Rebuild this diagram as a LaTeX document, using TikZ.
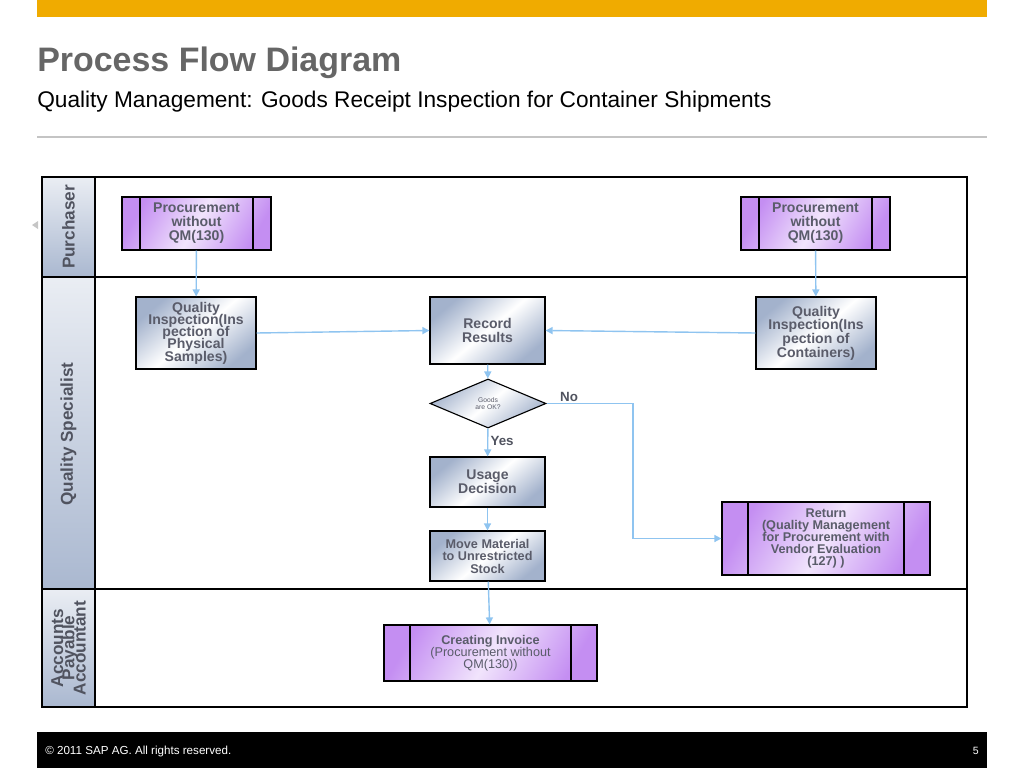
\documentclass[tikz,border=0pt]{standalone}
\usepackage{fontspec}
\setmainfont{Liberation Sans}
\usetikzlibrary{shapes.geometric}
\usetikzlibrary{arrows.meta}

\definecolor{sapgold}{HTML}{F0AB00}
\definecolor{titlegray}{HTML}{666666}
\definecolor{rulegray}{HTML}{C4C4C4}
\definecolor{flowblue}{HTML}{8FC4F0}
\definecolor{boxtext}{HTML}{5A5C6A}
\definecolor{stepblue}{HTML}{A3B2CC}
\definecolor{procpurple}{HTML}{C48EF2}
\definecolor{procpale}{HTML}{F1E4FC}
\definecolor{lanefill}{HTML}{AAB8D0}
\definecolor{lanetext}{HTML}{50535F}

% tight text, lines may touch
\newcommand{\tightfont}[2]{\fontsize{#1}{#2}\selectfont\lineskiplimit=-20pt\relax}

\begin{document}
\begin{tikzpicture}[x=0.025cm,y=-0.025cm,
    stepbox/.style={draw=black, line width=0.8pt, rectangle, align=center, text=boxtext,
        font=\tightfont{10}{10}\bfseries, inner sep=1pt,
        left color=stepblue, right color=stepblue, middle color=white, shading angle=40},
    procbox/.style={draw=black, line width=0.8pt, rectangle, align=center, text=boxtext,
        font=\tightfont{10}{10}\bfseries, inner sep=1pt,
        left color=procpurple, right color=procpurple, middle color=procpale, shading angle=60,
        path picture={
            \draw[line width=0.8pt] ([xshift=#1]path picture bounding box.north west) -- ([xshift=#1]path picture bounding box.south west);
            \draw[line width=0.8pt] ([xshift=-#1]path picture bounding box.north east) -- ([xshift=-#1]path picture bounding box.south east);}},
    decision/.style={diamond, draw=black, line width=0.8pt, minimum width=2.9cm, minimum height=1.225cm,
        inner sep=0pt, align=center, text=boxtext, font=\tightfont{4.8}{4.6},
        left color=stepblue, right color=stepblue, middle color=white, shading angle=40},
    lanelabel/.style={rotate=90, align=center, text=lanetext, inner sep=0pt,
        font=\tightfont{12.2}{8}\bfseries},
    lanecell/.style={top color=white!75!lanefill, bottom color=lanefill},
    flow/.style={draw=flowblue, line width=1pt, -{Triangle[length=5pt,width=5pt]}},
    lbl/.style={text=lanetext, font=\fontsize{9.5}{10}\selectfont\bfseries, inner sep=0.5pt}]
    \useasboundingbox (0,0) rectangle (1024,768);

    % Header
    \fill[sapgold] (37,0) rectangle (987,17);
    \node[anchor=base west, inner sep=0pt, text=titlegray] (title) at (37,72)
        {\resizebox{9.1cm}{!}{\bfseries Process Flow Diagram}};
    \node[anchor=base west, inner sep=0pt] (subtitle) at (37,108)
        {\resizebox{18.35cm}{!}{Quality Management: Goods Receipt Inspection for Container Shipments}};
    \draw[rulegray, line width=1pt] (37,137) -- (987,137);

    % Swimlanes
    \shade[lanecell] (42,177) rectangle (95,277);
    \shade[lanecell] (42,277) rectangle (95,589);
    \shade[lanecell] (42,589) rectangle (95,707);
    \draw[line width=1pt] (42,177) rectangle (967,707);
    \draw[line width=1pt] (42,277) -- (967,277);
    \draw[line width=1pt] (42,589) -- (967,589);
    \draw[line width=1pt] (95,177) -- (95,707);
    \fill[gray!45] (32,225) -- (38,221) -- (38,229) -- cycle;
    \node[lanelabel] (purchaser) at (68.5,227) {Purchaser};
    \node[lanelabel] (specialist) at (68.5,434) {Quality Specialist};
    \node[lanelabel] (accountant) at (68.5,648) {Accounts\\Payable\\Accountant};

    % Purchaser lane
    \node[procbox=0.45cm, minimum width=3.725cm, minimum height=1.325cm] (proc1) at (196.5,223.5)
        {Procurement\\without\\QM(130)};
    \node[procbox=0.45cm, minimum width=3.725cm, minimum height=1.325cm] (proc2) at (815.5,223.5)
        {Procurement\\without\\QM(130)};

    % Quality specialist lane
    \node[stepbox, font=\tightfont{10}{8.7}\bfseries, minimum width=3cm, minimum height=1.8cm] (insp1) at (196,333)
        {Quality\\Inspection(Ins\\pection of\\Physical\\Samples)};
    \node[stepbox, minimum width=2.875cm, minimum height=1.675cm] (rec) at (487.5,330.5)
        {Record\\Results};
    \node[stepbox, font=\tightfont{10}{9.7}\bfseries, minimum width=3cm, minimum height=1.8cm] (insp2) at (816,333)
        {Quality\\Inspection(Ins\\pection of\\Containers)};
    \node[decision] (ok) at (488,403.5) {Goods\\are OK?};
    \node[stepbox, minimum width=2.875cm, minimum height=1.25cm] (use) at (487.5,482)
        {Usage\\Decision};
    \node[stepbox, font=\tightfont{9}{8.9}\bfseries, minimum width=2.875cm, minimum height=1.25cm] (move) at (487.5,556)
        {Move Material\\to Unrestricted\\Stock};
    \node[procbox=0.65cm, font=\tightfont{9}{8.6}\bfseries, minimum width=5.2cm, minimum height=1.825cm] (ret) at (826,538.5)
        {Return\\(Quality Management\\for Procurement with\\Vendor Evaluation\\(127) )};

    % Accounts payable lane
    \node[procbox=0.65cm, font=\tightfont{9}{8.6}, minimum width=5.325cm, minimum height=1.4cm] (inv) at (490.5,653)
        {\textbf{Creating Invoice}\\(Procurement without\\QM(130))};

    % Connectors
    \coordinate (nobend) at (633,403.5);
    \draw[flow] (proc1) -- (insp1);
    \draw[flow] (proc2) -- (insp2);
    \draw[flow] (insp1.east) -- (rec.west);
    \draw[flow] (insp2.west) -- (rec.east);
    \draw[flow] (rec) -- (ok);
    \draw[flow] (ok) -- (use) node[lbl, pos=0.45, anchor=west, xshift=1pt] {Yes};
    \draw[flow] (ok.east) -- (nobend) node[lbl, pos=0.26, anchor=south] {No} |- (ret.west);
    \draw[flow] (use) -- (move);
    \draw[flow] (move) -- (inv);

    % Footer
    \fill[black] (37,732) rectangle (987,768);
    \node[anchor=base west, inner sep=0pt, text=white] (copyright) at (45,754)
        {\resizebox{4.65cm}{!}{\textcopyright{} 2011 SAP AG. All rights reserved.}};
    \node[anchor=base east, inner sep=0pt, text=white, font=\fontsize{7.5}{9}\selectfont] (page) at (979,754) {5};
\end{tikzpicture}
\end{document}
